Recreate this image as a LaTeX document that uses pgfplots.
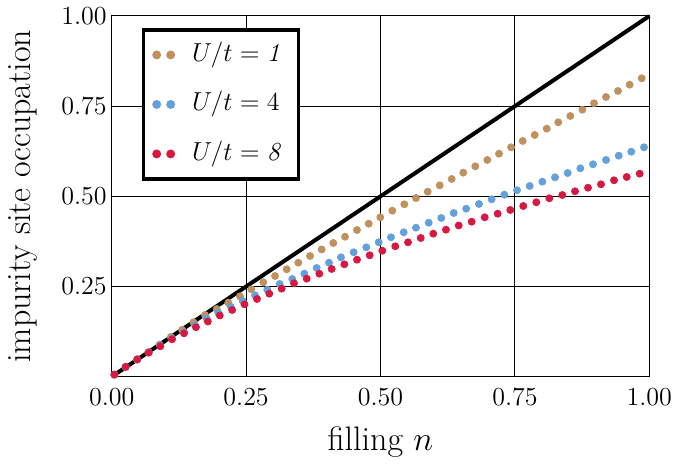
\RequirePackage{fix-cm}
\documentclass[border=0pt]{standalone}
\usepackage{pgfplots}
\pgfplotsset{compat=1.18}
\definecolor{brownc}{RGB}{190,145,95}
\definecolor{bluec}{RGB}{100,160,220}
\definecolor{redc}{RGB}{215,25,65}
\newcommand{\lf}{\fontsize{13}{15}\selectfont}
\begin{document}
\begin{tikzpicture}
\path[use as bounding box] (0,0) rectangle (336.5pt,232pt);
\begin{axis}[
  at={(55.85pt,43.65pt)}, anchor=south west,
  scale only axis, width=268.8pt, height=180.35pt,
  xmin=0, xmax=1, ymin=0, ymax=1,
  clip=false,
  xtick={0,0.25,0.5,0.75,1},
  ytick={0.25,0.5,0.75,1},
  major tick length=0pt,
  grid=major,
  major grid style={black, line width=0.5pt},
  axis line style={black, line width=0.5pt},
  tick label style={font=\fontsize{13}{15}\selectfont},
  xticklabel style={/pgf/number format/.cd, fixed, fixed zerofill, precision=2, /tikz/.cd, yshift=-2.3pt},
  yticklabel style={/pgf/number format/.cd, fixed, fixed zerofill, precision=2, /tikz/.cd, xshift=1pt},
  label style={font=\fontsize{17}{20}\selectfont},
  xlabel={filling $n$},
  ylabel={impurity site occupation},
  xlabel style={at={(axis description cs:0.5,-0.18)}, anchor=center},
  ylabel style={at={(axis description cs:-0.165,0.5)}, anchor=center, rotate=0},
  legend cell align=left,
  legend image code/.code={
    \fill[#1] (0pt,0pt) circle (1.35pt);
    \fill[#1] (7pt,0pt) circle (1.35pt);
  },
  legend style={at={(axis description cs:0.0558,0.9659)}, anchor=north west,
    draw=black, line width=1.65pt, fill=white,
    inner xsep=4.5pt, inner ysep=6pt, row sep=11.75pt,
    nodes={inner sep=0pt, text height=9.75pt, text depth=3.25pt, text width=48.8pt, align=left},
    /tikz/every odd column/.append style={column sep=8.5pt}},
]
\addplot[black, line width=2pt, forget plot] coordinates {(0,0) (1,1)};
\addplot[only marks, mark=*, mark size=1.75pt, color=brownc, mark options={draw=none, fill=brownc}] table {
0.005 0.005
0.026 0.026
0.047 0.047
0.068 0.068
0.089 0.089
0.110 0.110
0.131 0.130
0.152 0.151
0.1736 0.1711
0.1953 0.1877
0.2169 0.2052
0.2387 0.2229
0.2597 0.2423
0.2820 0.2617
0.3038 0.2792
0.3255 0.2978
0.3471 0.3161
0.3689 0.3346
0.3906 0.3527
0.4122 0.3707
0.4340 0.3881
0.4563 0.4067
0.4781 0.4242
0.4996 0.4419
0.5220 0.4602
0.5443 0.4780
0.5660 0.4954
0.5878 0.5129
0.6101 0.5306
0.6324 0.5481
0.6540 0.5656
0.6763 0.5833
0.6987 0.6008
0.7204 0.6182
0.7428 0.6360
0.7645 0.6535
0.7868 0.6701
0.8092 0.6876
0.8307 0.7053
0.8531 0.7228
0.8754 0.7402
0.8971 0.7580
0.9195 0.7754
0.9418 0.7921
0.9635 0.8095
0.9859 0.8273
};
\addlegendentry{\lf $U/t = \mathit{1}$}
\addplot[only marks, mark=*, mark size=1.75pt, color=bluec, mark options={draw=none, fill=bluec}] table {
0.005 0.006
0.026 0.027
0.048 0.048
0.069 0.068
0.090 0.087
0.112 0.106
0.1345 0.124
0.155 0.142
0.1767 0.1614
0.1983 0.1774
0.2214 0.1941
0.2437 0.2099
0.2666 0.2257
0.2894 0.2412
0.3125 0.2570
0.3359 0.2709
0.3583 0.2856
0.3813 0.3014
0.4042 0.3161
0.4265 0.3310
0.4501 0.3449
0.4736 0.3587
0.4967 0.3726
0.5195 0.3865
0.5432 0.4003
0.5660 0.4131
0.5897 0.4269
0.6131 0.4400
0.6362 0.4538
0.6594 0.4658
0.6832 0.4788
0.7068 0.4918
0.7303 0.5046
0.7539 0.5168
0.7775 0.5287
0.8010 0.5406
0.8246 0.5528
0.8482 0.5647
0.8717 0.5778
0.8953 0.5889
0.9195 0.6008
0.9431 0.6127
0.9665 0.6238
0.9901 0.6360
};
\addlegendentry{\lf $U/t = 4$}
\addplot[only marks, mark=*, mark size=1.75pt, color=redc, mark options={draw=none, fill=redc}] table {
0.005 0.006
0.026 0.0277
0.0476 0.0482
0.0688 0.0665
0.0904 0.0843
0.1122 0.1037
0.1345 0.1203
0.1568 0.1372
0.1788 0.1530
0.2011 0.1697
0.2241 0.1849
0.2470 0.2007
0.2703 0.2154
0.2932 0.2301
0.3162 0.2440
0.3391 0.2589
0.3627 0.2717
0.3862 0.2856
0.4092 0.2986
0.4327 0.3116
0.4563 0.3244
0.4799 0.3366
0.5034 0.3493
0.5275 0.3615
0.5512 0.3726
0.5748 0.3845
0.5982 0.3965
0.6218 0.4075
0.6455 0.4192
0.6696 0.4297
0.6938 0.4419
0.7180 0.4519
0.7414 0.4622
0.7656 0.4732
0.7898 0.4835
0.8140 0.4946
0.8382 0.5037
0.8618 0.5140
0.8860 0.5240
0.9102 0.5334
0.9344 0.5445
0.9580 0.5537
0.9821 0.5628
};
\addlegendentry{\lf $U/t = \mathit{8}$}
\end{axis}
\end{tikzpicture}
\end{document}
